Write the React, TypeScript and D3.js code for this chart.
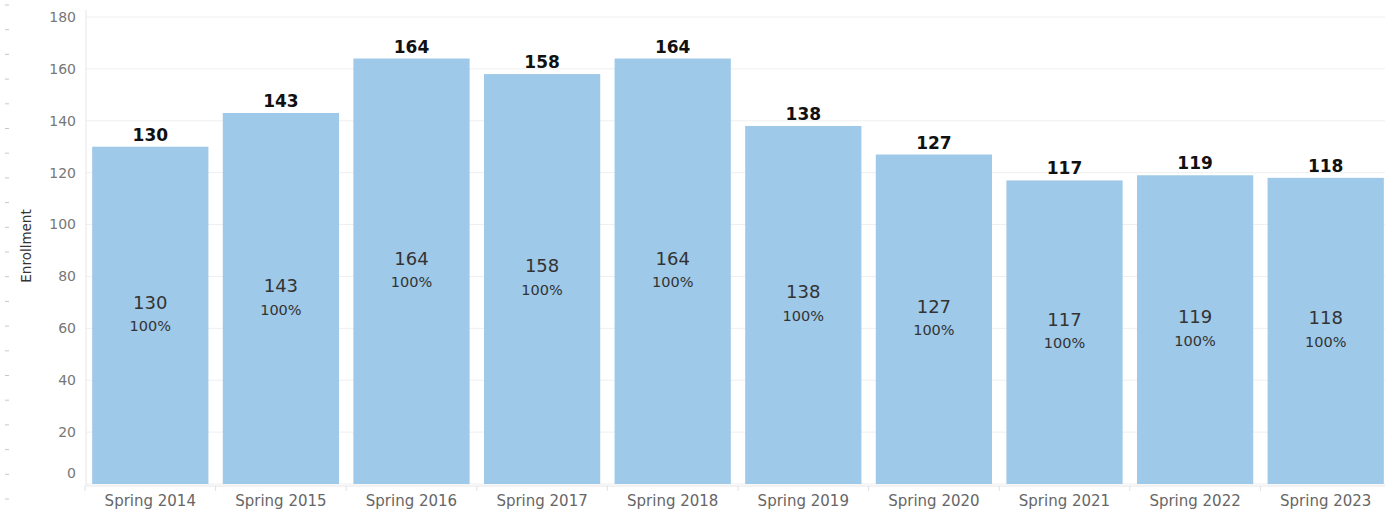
import React from 'react'
import * as d3 from 'd3'

const terms = ['Spring 2014', 'Spring 2015', 'Spring 2016', 'Spring 2017', 'Spring 2018', 'Spring 2019', 'Spring 2020', 'Spring 2021', 'Spring 2022', 'Spring 2023']
const enrollment = [130, 143, 164, 158, 164, 138, 127, 117, 119, 118]
const shares = ['100%', '100%', '100%', '100%', '100%', '100%', '100%', '100%', '100%', '100%']
const yTicks = [0, 20, 40, 60, 80, 100, 120, 140, 160, 180]

const W = 1385
const H = 522
const FONT = '"DejaVu Sans", Verdana, sans-serif'

export default function App() {
    const x = d3.scaleBand<string>()
        .domain(terms)
        .range([85, 1391])
        .paddingInner(0.11)
        .paddingOuter(0.055)

    const y = d3.scaleLinear()
        .domain([0, 180])
        .range([484, 17])

    // little scroll-margin dashes down the left edge
    const dashes = d3.range(5, 505, 24.7)

    return (
        <svg width={W} height={H} style={{ position: 'absolute', left: 0, top: 0, background: '#fff' }}>
            {dashes.map((d, i) => (
                <line key={'d' + i} x1={5} x2={9} y1={d} y2={d} stroke="#c8c8c8" strokeWidth={1} />
            ))}

            {/* gridlines */}
            {yTicks.map(t => (
                <line key={'g' + t} x1={86} x2={W} y1={y(t)} y2={y(t)} stroke="#efefef" strokeWidth={1} />
            ))}
            <line x1={86} x2={86} y1={10} y2={486} stroke="#e6e6e6" strokeWidth={1} />
            <line x1={86} x2={W} y1={486} y2={486} stroke="#e6e6e6" strokeWidth={1} />

            {/* y tick labels, bottom one nudged up like the original */}
            {yTicks.map(t => (
                <text key={'t' + t} x={76} y={y(t) - (t === 0 ? 11 : 0)} dy="0.35em" textAnchor="end"
                    fontFamily={FONT} fontSize={14} fill="#777">{t}</text>
            ))}
            <text transform={`translate(31,246) rotate(-90)`} textAnchor="middle"
                fontFamily={FONT} fontSize={13.5} fill="#333">Enrollment</text>

            {/* band ticks on x axis */}
            {terms.map(t => {
                const bx = x(t)! - (x.step() - x.bandwidth()) / 2
                return <line key={'xt' + t} x1={bx} x2={bx} y1={486} y2={491} stroke="#e0e0e0" />
            })}

            {/* bars */}
            {terms.map((t, i) => {
                const v = enrollment[i]
                const bx = x(t)!
                const bw = x.bandwidth()
                const cx = bx + bw / 2
                const top = y(v)
                const mid = (top + y(0)) / 2
                return (
                    <g key={t}>
                        <rect x={bx} y={top} width={bw} height={y(0) - top} fill="#9ec9e8" />
                        <text x={cx} y={top - 6} textAnchor="middle" fontFamily={FONT}
                            fontWeight="bold" fontSize={17} fill="#111">{v}</text>
                        <text x={cx} y={mid - 13} dy="0.35em" textAnchor="middle" fontFamily={FONT}
                            fontSize={18} fill="#333">{v}</text>
                        <text x={cx} y={mid + 11} dy="0.35em" textAnchor="middle" fontFamily={FONT}
                            fontSize={14.5} fill="#333">{shares[i]}</text>
                        <text x={cx} y={501} dy="0.35em" textAnchor="middle" fontFamily={FONT}
                            fontSize={15} fill="#666">{t}</text>
                    </g>
                )
            })}
        </svg>
    )
}
